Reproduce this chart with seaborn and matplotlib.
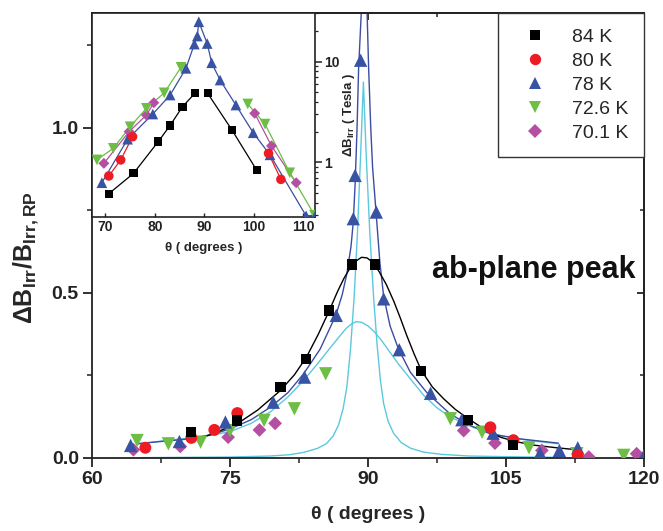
import matplotlib
matplotlib.use("Agg")
import matplotlib.pyplot as plt
from matplotlib.lines import Line2D
from matplotlib.ticker import MultipleLocator, NullFormatter, LogLocator, FixedLocator, FixedFormatter
import pandas as pd
import seaborn as sns

# ---------------------------------------------------------------- data
series = ["84 K", "80 K", "78 K", "72.6 K", "70.1 K"]

# main panel: normalised irreversibility-field excess vs angle
theta_84 = [70.8, 75.8, 80.5, 83.3, 85.8, 88.3, 90.8, 95.8, 100.9, 105.8]
ratio_84 = [0.078, 0.114, 0.215, 0.300, 0.447, 0.586, 0.586, 0.263, 0.116, 0.040]

theta_80 = [65.8, 70.8, 73.3, 75.8, 103.3, 105.8, 112.8]
ratio_80 = [0.031, 0.061, 0.085, 0.136, 0.093, 0.054, 0.008]

theta_78 = [64.2, 69.5, 74.5, 79.7, 83.1, 86.55, 88.4, 88.6, 89.2, 90.9, 91.7,
            93.4, 96.8, 100.2, 103.6, 108.7, 110.8, 112.8, 120.0]
ratio_78 = [0.038, 0.050, 0.109, 0.169, 0.245, 0.432, 0.725, 0.856, 1.205, 0.745, 0.482,
            0.328, 0.196, 0.116, 0.075, 0.015, 0.023, 0.031, 0.008]

theta_726 = [64.9, 68.3, 71.8, 75.0, 78.7, 82.0, 85.4, 98.95, 102.4, 107.5, 112.7, 117.8]
ratio_726 = [0.053, 0.043, 0.048, 0.083, 0.114, 0.149, 0.255, 0.119, 0.078, 0.031, 0.013, 0.008]

theta_701 = [64.5, 69.6, 74.8, 78.2, 79.9, 100.4, 103.8, 108.9, 114.0, 119.2]
ratio_701 = [0.025, 0.035, 0.063, 0.085, 0.105, 0.083, 0.045, 0.023, 0.003, 0.013]

# fitted peak profiles
fit_84_theta = [70.7, 73.0, 75.8, 78.0, 80.5, 82.0, 83.3, 84.6, 85.8, 86.7, 87.4, 88.0,
                88.6, 89.3, 89.9, 90.5, 91.2, 92.0, 92.8, 93.5, 94.2, 95.0, 95.8, 97.0,
                98.2, 99.5, 100.9, 102.5, 104.4, 106.0, 108.0, 110.5, 112.7]
fit_84_ratio = [0.051, 0.072, 0.104, 0.145, 0.205, 0.252, 0.305, 0.375, 0.447, 0.505, 0.545, 0.573,
                0.595, 0.608, 0.606, 0.593, 0.565, 0.525, 0.475, 0.425, 0.372, 0.316, 0.265, 0.215,
                0.180, 0.147, 0.119, 0.090, 0.063, 0.050, 0.039, 0.031, 0.025]

fit_78_theta = [64.9, 67.5, 70.7, 73.0, 75.0, 77.3, 79.4, 81.3, 83.0, 84.8, 86.5, 87.2, 87.7,
                88.15, 88.4, 88.6, 88.8, 88.98, 89.27, 89.35, 89.8, 89.9, 90.07, 90.3, 90.5,
                90.9, 91.3, 91.7, 92.4, 93.3, 94.6, 96.4, 98.9, 101.0, 103.3, 106.5, 110.7]
fit_78_ratio = [0.043, 0.050, 0.058, 0.071, 0.088, 0.116, 0.154, 0.198, 0.255, 0.330, 0.432, 0.495, 0.558,
                0.640, 0.715, 0.830, 0.990, 1.180, 1.350, 1.450, 1.450, 1.350, 1.180, 1.000, 0.880,
                0.735, 0.590, 0.490, 0.400, 0.331, 0.260, 0.198, 0.134, 0.100, 0.073, 0.058, 0.045]

fit_broad_theta = [64.9, 67.5, 70.7, 73.0, 75.0, 77.3, 79.4, 81.3, 83.0, 84.5, 85.9, 86.8,
                   87.6, 88.2, 88.7, 89.3, 90.0, 90.7, 91.5, 92.4, 93.3, 94.6, 96.05, 97.5,
                   98.95, 101.5, 104.4, 107.5, 110.7]
fit_broad_ratio = [0.043, 0.051, 0.061, 0.069, 0.080, 0.105, 0.140, 0.185, 0.235, 0.285, 0.334, 0.365,
                   0.392, 0.406, 0.413, 0.411, 0.400, 0.382, 0.355, 0.320, 0.285, 0.240, 0.190, 0.152,
                   0.124, 0.092, 0.068, 0.053, 0.043]

fit_sharp_theta = [65.3, 70.0, 75.0, 79.4, 81.5, 83.0, 84.5, 85.5, 86.2, 86.8, 87.3, 87.7,
                   88.1, 88.5, 88.85, 89.2, 89.5, 89.8, 90.2, 90.6, 91.0, 91.35, 91.7, 92.2,
                   92.8, 93.6, 94.6, 96.0, 98.0, 101.0, 105.0, 110.7]
fit_sharp_ratio = [0.001, 0.002, 0.003, 0.006, 0.010, 0.017, 0.029, 0.044, 0.066, 0.100, 0.150, 0.215,
                   0.330, 0.490, 0.680, 0.920, 1.139, 0.920, 0.680, 0.490, 0.340, 0.235, 0.165, 0.110,
                   0.074, 0.047, 0.030, 0.018, 0.011, 0.006, 0.004, 0.002]

# inset: irreversibility-field excess in tesla (log scale)
in_theta_84 = [70.7, 75.7, 80.7, 83.1, 85.6, 88.1, 90.7, 95.6, 100.6]
in_field_84 = [0.49, 0.78, 1.61, 2.33, 3.57, 4.84, 4.84, 2.10, 0.84]
in_side_84 = ["low"] * 6 + ["high"] * 3

in_theta_80 = [70.7, 73.1, 75.5, 103.0, 105.5]
in_field_80 = [0.735, 1.06, 1.80, 1.23, 0.68]
in_side_80 = ["low"] * 3 + ["high"] * 2

in_theta_78 = [69.3, 74.5, 79.6, 83.1, 86.3, 88.0, 88.6, 88.9, 90.6, 91.5, 93.2, 96.4,
               99.9, 103.3, 110.6, 112.5]
in_field_78 = [0.63, 1.70, 3.02, 4.66, 8.57, 14.9, 17.9, 24.8, 15.1, 9.73, 6.56, 3.71,
               1.97, 1.19, 0.296, 0.30]
in_side_78 = ["all"] * 16

in_theta_726 = [68.3, 71.6, 75.0, 78.3, 81.9, 85.3, 98.8, 102.3, 107.3, 112.3]
in_field_726 = [1.06, 1.38, 2.26, 3.44, 4.9, 8.77, 3.8, 2.4, 0.79, 0.30]
in_side_726 = ["low"] * 6 + ["high"] * 4

in_theta_701 = [69.7, 74.8, 78.3, 79.8, 100.2, 103.6, 108.6]
in_field_701 = [0.98, 2.02, 2.95, 3.91, 3.07, 1.46, 0.63]
in_side_701 = ["low"] * 4 + ["high"] * 3

# ---------------------------------------------------------------- style
sns.set_style("ticks")
plt.rcParams["font.family"] = ["Liberation Sans", "DejaVu Sans"]
plt.rcParams["font.weight"] = "bold"
plt.rcParams["axes.labelweight"] = "bold"
plt.rcParams["mathtext.fontset"] = "custom"
plt.rcParams["mathtext.rm"] = "Liberation Sans:bold"
plt.rcParams["mathtext.bf"] = "Liberation Sans:bold"
plt.rcParams["mathtext.it"] = "Liberation Sans:bold"
plt.rcParams["mathtext.default"] = "rm"

colors = {"84 K": "#000000", "80 K": "#ED1C24", "78 K": "#3953A4",
          "72.6 K": "#6CBE45", "70.1 K": "#B44FA2"}
markers = {"84 K": "s", "80 K": "o", "78 K": "^", "72.6 K": "v", "70.1 K": "D"}
msize = {"84 K": 7.4, "80 K": 8.6, "78 K": 9.6, "72.6 K": 9.6, "70.1 K": 7.0}
line_dark = "#3A4DA0"
line_cyan = "#5CC8DE"
spine_col = "#222222"

main = {
    "84 K": (theta_84, ratio_84),
    "80 K": (theta_80, ratio_80),
    "78 K": (theta_78, ratio_78),
    "72.6 K": (theta_726, ratio_726),
    "70.1 K": (theta_701, ratio_701),
}
inset = {
    "84 K": (in_theta_84, in_field_84, in_side_84),
    "80 K": (in_theta_80, in_field_80, in_side_80),
    "78 K": (in_theta_78, in_field_78, in_side_78),
    "72.6 K": (in_theta_726, in_field_726, in_side_726),
    "70.1 K": (in_theta_701, in_field_701, in_side_701),
}

fig = plt.figure(figsize=(6.63, 5.31), dpi=100)
ax = fig.add_axes([92 / 663, 1 - 458 / 531, 552 / 663, 445 / 531])

# ---------------------------------------------------------------- main panel
for th, r, col in [(fit_sharp_theta, fit_sharp_ratio, line_cyan),
                   (fit_broad_theta, fit_broad_ratio, line_cyan),
                   (fit_78_theta, fit_78_ratio, line_dark),
                   (fit_84_theta, fit_84_ratio, "#000000")]:
    sns.lineplot(x=th, y=r, ax=ax, color=col, lw=1.0, estimator=None, zorder=2)

for name in series[::-1]:
    th, r = main[name]
    sns.scatterplot(x=th, y=r, ax=ax, marker=markers[name], color=colors[name],
                    s=msize[name] ** 2, edgecolor="none", linewidth=0, zorder=3,
                    clip_on=True)

ax.set_xlim(60, 120)
ax.set_ylim(0, 1.348)
ax.xaxis.set_major_locator(FixedLocator([60, 75, 90, 105, 120]))
ax.xaxis.set_minor_locator(MultipleLocator(7.5))
ax.yaxis.set_major_locator(FixedLocator([0.0, 0.5, 1.0]))
ax.yaxis.set_minor_locator(MultipleLocator(0.25))
ax.yaxis.set_major_formatter(FixedFormatter(["0.0", "0.5", "1.0"]))
ax.tick_params(which="major", direction="out", length=6.5, width=1.3, labelsize=14,
               colors=spine_col, pad=3)
ax.tick_params(which="minor", direction="out", length=3.5, width=1.1, colors=spine_col)
for sp in ax.spines.values():
    sp.set_visible(True)
    sp.set_linewidth(1.3)
    sp.set_color(spine_col)

top = ax.secondary_xaxis("top")
top.xaxis.set_major_locator(FixedLocator([60, 75, 90, 105, 120]))
top.xaxis.set_minor_locator(MultipleLocator(7.5))
top.xaxis.set_major_formatter(NullFormatter())
top.tick_params(which="major", direction="in", length=5, width=1.3, colors=spine_col)
top.tick_params(which="minor", direction="in", length=3, width=1.1, colors=spine_col)
right = ax.secondary_yaxis("right")
right.yaxis.set_major_locator(FixedLocator([0.0, 0.5, 1.0]))
right.yaxis.set_minor_locator(MultipleLocator(0.25))
right.yaxis.set_major_formatter(NullFormatter())
right.tick_params(which="major", direction="in", length=5, width=1.3, colors=spine_col)
right.tick_params(which="minor", direction="in", length=3, width=1.1, colors=spine_col)
for s in (top, right):
    for sp in s.spines.values():
        sp.set_linewidth(1.3)
        sp.set_color(spine_col)

ax.set_xlabel("θ ( degrees )", fontsize=14, labelpad=13)
ax.set_ylabel("ΔB$_{Irr}$/B$_{Irr,RP}$", fontsize=18)
ax.yaxis.set_label_coords(-0.093, 0.45)

ax.text(97.0, 0.568, "ab-plane peak", fontsize=22, fontweight="bold", va="center",
        ha="left", color="#111111")

handles = [Line2D([], [], marker=markers[n], color=colors[n], linestyle="",
                  markersize=msize[n] * 0.95, markeredgewidth=0) for n in series]
leg = ax.legend(handles, series, loc="upper right", bbox_to_anchor=(1.0, 1.0),
                borderaxespad=0, frameon=True, fancybox=False, framealpha=1,
                edgecolor="#333333", prop={"size": 14, "weight": "normal"},
                labelspacing=0.32, handletextpad=0.8, borderpad=0.8,
                handlelength=2.2)
leg.get_frame().set_linewidth(1.0)

# ---------------------------------------------------------------- inset
axin = fig.add_axes([92 / 663, 1 - 217 / 531, 223 / 663, 204 / 531])
for name in series[::-1]:
    th, b, side = inset[name]
    df = pd.DataFrame({"theta": th, "field": b, "side": side})
    sns.lineplot(data=df, x="theta", y="field", units="side", estimator=None,
                 ax=axin, color=colors[name] if name != "78 K" else line_dark,
                 lw=0.9, zorder=2)
for name in series[::-1]:
    th, b, side = inset[name]
    sns.scatterplot(x=th, y=b, ax=axin, marker=markers[name], color=colors[name],
                    s=(msize[name] * 0.8) ** 2, edgecolor="none", linewidth=0, zorder=3)

axin.set_yscale("log")
axin.set_xlim(67.3, 112.4)
axin.set_ylim(0.288, 30.3)
axin.xaxis.set_major_locator(FixedLocator([70, 80, 90, 100, 110]))
axin.yaxis.tick_right()
axin.yaxis.set_label_position("right")
axin.yaxis.set_major_locator(FixedLocator([1, 10]))
axin.yaxis.set_major_formatter(FixedFormatter(["1", "10"]))
axin.yaxis.set_minor_locator(LogLocator(base=10, subs=range(2, 10)))
axin.yaxis.set_minor_formatter(NullFormatter())
axin.tick_params(axis="x", which="major", direction="in", length=3, width=1.0,
                 labelsize=10, pad=2, colors=spine_col)
axin.tick_params(axis="y", which="major", direction="out", length=5, width=1.1,
                 labelsize=10, pad=1.5, colors=spine_col, left=False, right=True)
axin.tick_params(axis="y", which="minor", direction="out", length=2.5, width=0.9,
                 colors=spine_col, left=False, right=True)
for sp in axin.spines.values():
    sp.set_visible(True)
    sp.set_linewidth(1.2)
    sp.set_color(spine_col)
axin.set_xlabel("θ ( degrees )", fontsize=9.5, labelpad=6)
axin.set_ylabel("ΔB$_{Irr}$ ( Tesla )", fontsize=9.5, labelpad=1)

fig.savefig("out.png", dpi=100)
